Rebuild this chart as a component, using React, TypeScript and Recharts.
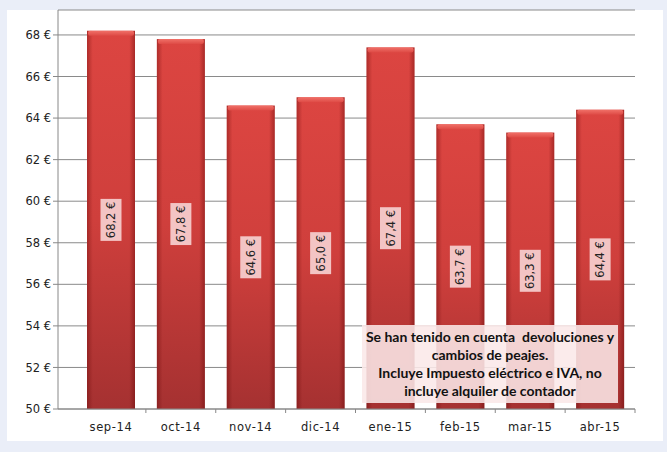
// Monthly electricity bill bars (sep-14 .. abr-15)

import { BarChart, Bar, XAxis, YAxis, CartesianGrid, LabelList } from "recharts";

const months = ["sep-14", "oct-14", "nov-14", "dic-14", "ene-15", "feb-15", "mar-15", "abr-15"];
const amounts = [68.2, 67.8, 64.6, 65.0, 67.4, 63.7, 63.3, 64.4];
const yTicks = [50, 52, 54, 56, 58, 60, 62, 64, 66, 68];
const noteLines = [
  "Se han tenido en cuenta  devoluciones y",
  "cambios de peajes.",
  "Incluye Impuesto eléctrico e IVA, no",
  "incluye alquiler de contador",
];

const data = months.map((m, i) => ({ month: m, value: amounts[i] }));

const euro = (v: number) => `${v.toFixed(1).replace(".", ",")} €`;

const BarShape = (props: any) => {
  const { x, y, width, height } = props;
  if (!height || height <= 0) return null;
  return (
    <g>
      <rect x={x} y={y} width={width} height={height} fill="url(#barV)" />
      <rect x={x} y={y} width={width} height={height} fill="url(#barH)" />
      <rect x={x + 1} y={y} width={width - 2} height={5} rx={2} fill="url(#barTop)" />
    </g>
  );
};

const ValueLabel = (props: any) => {
  const { x, y, width, height, value } = props;
  const cx = x + width / 2;
  const cy = y + height / 2;
  return (
    <g>
      <rect x={cx - 10.5} y={cy - 21} width={21} height={42} fill="#f3c4c4" />
      <text
        x={cx}
        y={cy}
        transform={`rotate(-90 ${cx} ${cy})`}
        textAnchor="middle"
        dominantBaseline="central"
        fontSize={11.5}
        fontFamily="DejaVu Sans"
        fill="#222"
      >
        {euro(value)}
      </text>
    </g>
  );
};

const MonthTick = (props: any) => {
  const { x, y, payload } = props;
  const half = payload.offset ?? 35;
  return (
    <g>
      <line x1={x + half} y1={y - 8} x2={x + half} y2={y - 4} stroke="#888" />
      <text x={x} y={y + 14} textAnchor="middle" fontSize={11.5} fontFamily="DejaVu Sans" fill="#222" letterSpacing={0.6}>
        {payload.value}
      </text>
    </g>
  );
};

export default function App() {
  return (
    <div style={{ position: "fixed", left: 0, top: 0, width: 667, height: 452, background: "#eaeef8" }}>
      <div style={{ position: "absolute", left: 7, top: 10, width: 656, height: 431, background: "#fff" }} />
      <div style={{ position: "absolute", left: 0, top: 0 }}>
        <BarChart
          width={667}
          height={452}
          data={data}
          margin={{ top: 10, right: 32, left: 8, bottom: 13 }}
          barSize={48}
        >
          <defs>
            <linearGradient id="barV" x1="0" y1="0" x2="0" y2="1">
              <stop offset="0%" stopColor="#dc4541" />
              <stop offset="50%" stopColor="#cf3f3c" />
              <stop offset="100%" stopColor="#a53131" />
            </linearGradient>
            <linearGradient id="barH" x1="0" y1="0" x2="1" y2="0">
              <stop offset="0%" stopColor="#5a0000" stopOpacity={0.35} />
              <stop offset="12%" stopColor="#5a0000" stopOpacity={0} />
              <stop offset="88%" stopColor="#5a0000" stopOpacity={0} />
              <stop offset="100%" stopColor="#5a0000" stopOpacity={0.4} />
            </linearGradient>
            <linearGradient id="barTop" x1="0" y1="0" x2="0" y2="1">
              <stop offset="0%" stopColor="#f07068" />
              <stop offset="100%" stopColor="#de4a45" />
            </linearGradient>
          </defs>
          <CartesianGrid vertical={false} stroke="#8a8a8a" />
          <XAxis
            dataKey="month"
            padding={{ left: 18, right: 0 }}
            height={30}
            stroke="#888"
            tickLine={false}
            tick={<MonthTick />}
            interval={0}
          />
          <YAxis
            domain={[50, 69.2]}
            ticks={yTicks}
            width={50}
            stroke="#888"
            tickSize={5}
            tickFormatter={(v: number) => `${v} €`}
            tick={{ fontSize: 11.5, fontFamily: "DejaVu Sans", fill: "#222" }}
            allowDataOverflow
          />
          <Bar dataKey="value" shape={<BarShape />} isAnimationActive={false}>
            <LabelList dataKey="value" content={<ValueLabel />} />
          </Bar>
        </BarChart>
      </div>
      <div
        style={{
          position: "absolute",
          left: 362,
          top: 325,
          width: 256,
          height: 78,
          background: "rgba(250, 232, 232, 0.88)",
          fontFamily: "Lato, sans-serif",
          fontWeight: 700,
          fontSize: 14,
          lineHeight: "18px",
          color: "#111",
          textAlign: "center",
          paddingTop: 3,
          boxSizing: "border-box",
          whiteSpace: "pre",
        }}
      >
        {noteLines.map((l) => (
          <div key={l}>{l}</div>
        ))}
      </div>
    </div>
  );
}
